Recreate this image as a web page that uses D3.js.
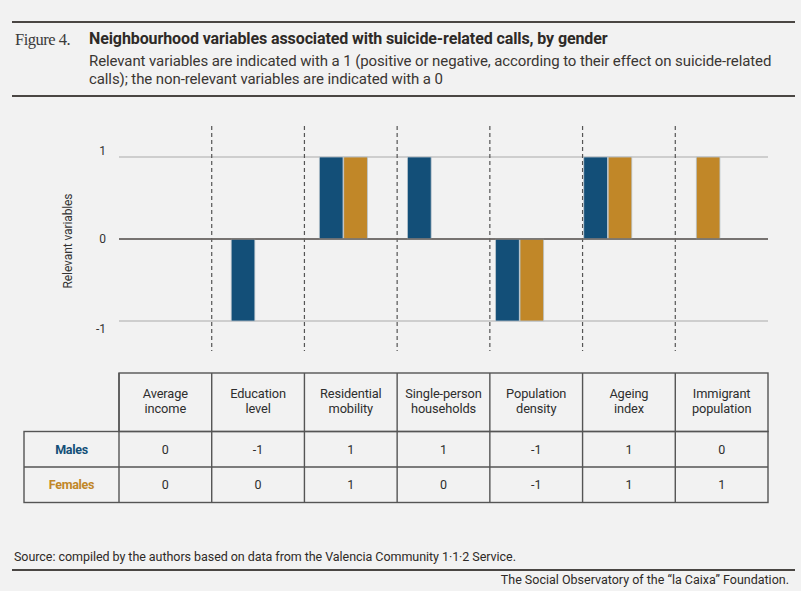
<!DOCTYPE html>
<html>
<head>
<meta charset="utf-8">
<script src="https://cdn.jsdelivr.net/npm/d3@7"></script>
<style>
  html, body { margin: 0; padding: 0; background: #f2f2f2; }
  svg { display: block; font-family: Roboto, "Liberation Sans", sans-serif; }
</style>
</head>
<body>
<div id="chart"></div>
<script>
// data
const categories = [
  ["Average", "income"],
  ["Education", "level"],
  ["Residential", "mobility"],
  ["Single-person", "households"],
  ["Population", "density"],
  ["Ageing", "index"],
  ["Immigrant", "population"]
]
const genders = ["Males", "Females"]
const males = [0, -1, 1, 1, -1, 1, 0]
const females = [0, 0, 1, 0, -1, 1, 1]
const yTicks = [1, 0, -1]

const width = 801
const height = 591
const colors = { Males: "#134f78", Females: "#c18728" }
const lineColor = "#4a4643"

const svg = d3
  .select("#chart")
  .append("svg")
  .attr("width", width)
  .attr("height", height)
  .attr("viewBox", [0, 0, width, height])

svg.append("rect").attr("width", width).attr("height", height).attr("fill", "#f2f2f2")

// header
svg.append("line").attr("x1", 12).attr("x2", 795).attr("y1", 22).attr("y2", 22)
  .attr("stroke", lineColor).attr("stroke-width", 2)
svg.append("line").attr("x1", 12).attr("x2", 795).attr("y1", 96).attr("y2", 96)
  .attr("stroke", lineColor).attr("stroke-width", 2)

svg.append("text")
  .attr("x", 15).attr("y", 45)
  .style("font-family", "'Liberation Serif', 'DejaVu Serif', serif")
  .style("font-size", "16.5px")
  .attr("fill", "#3a3a3a")
  .attr("letter-spacing", -0.5)
  .text("Figure 4.")
svg.append("text")
  .attr("x", 89).attr("y", 44)
  .style("font-size", "16px")
  .style("font-weight", "bold")
  .attr("letter-spacing", -0.1)
  .attr("fill", "#2e2a27")
  .text("Neighbourhood variables associated with suicide-related calls, by gender")
const sub = svg.append("text")
  .style("font-size", "15px")
  .attr("letter-spacing", -0.1)
  .attr("fill", "#3a3633")
sub.append("tspan").attr("x", 89).attr("y", 66)
  .text("Relevant variables are indicated with a 1 (positive or negative, according to their effect on suicide-related")
sub.append("tspan").attr("x", 89).attr("y", 84)
  .text("calls); the non-relevant variables are indicated with a 0")

// chart area
const gridLeft = 119
const gridRight = 768

const y = d3.scaleLinear().domain([-1, 1]).range([321, 157])

// columns of the table / dashed separators
const col = d3.scaleBand().domain(d3.range(categories.length)).range([gridLeft, gridRight])

// bar groups (slightly off the table columns, as in the original)
const x = d3
  .scaleBand()
  .domain(d3.range(categories.length))
  .range([123, 740])
  .paddingInner(0.455)
  .paddingOuter(0.2275)
const xSub = d3.scaleBand().domain(genders).range([0, x.bandwidth()]).paddingInner(0.03)

// gridlines
svg.append("g")
  .selectAll("line")
  .data(yTicks)
  .join("line")
  .attr("x1", gridLeft)
  .attr("x2", gridRight)
  .attr("y1", d => y(d))
  .attr("y2", d => y(d))
  .attr("stroke", d => (d === 0 ? "#6f6b68" : "#c2c2c2"))
  .attr("stroke-width", d => (d === 0 ? 1.6 : 1.4))

// y tick labels
const tickOffset = { "1": -6, "0": 0, "-1": 8 }
svg.append("g")
  .selectAll("text")
  .data(yTicks)
  .join("text")
  .attr("x", 106)
  .attr("y", d => y(d) + tickOffset[d] + 4)
  .attr("text-anchor", "end")
  .style("font-size", "12px")
  .attr("fill", "#333")
  .text(d => d)

svg.append("text")
  .attr("transform", "translate(72,241) rotate(-90)")
  .attr("text-anchor", "middle")
  .style("font-size", "12px")
  .attr("fill", "#333")
  .attr("letter-spacing", -0.1)
  .text("Relevant variables")

// dashed separators
svg.append("g")
  .selectAll("line")
  .data(d3.range(1, categories.length))
  .join("line")
  .attr("x1", i => col(i))
  .attr("x2", i => col(i))
  .attr("y1", 126)
  .attr("y2", 351)
  .attr("stroke", "#555")
  .attr("stroke-width", 1.2)
  .attr("stroke-dasharray", "4,3")

// bars
const barData = []
categories.forEach((c, i) => {
  barData.push({ i, g: "Males", v: males[i] })
  barData.push({ i, g: "Females", v: females[i] })
})
svg.append("g")
  .selectAll("rect")
  .data(barData.filter(d => d.v !== 0))
  .join("rect")
  .attr("x", d => x(d.i) + xSub(d.g))
  .attr("width", xSub.bandwidth())
  .attr("y", d => y(Math.max(0, d.v)))
  .attr("height", d => Math.abs(y(d.v) - y(0)))
  .attr("fill", d => colors[d.g])
  .attr("stroke", "#b9c4cc")
  .attr("stroke-width", 0.8)

// redraw zero line on top
svg.append("line")
  .attr("x1", gridLeft).attr("x2", gridRight)
  .attr("y1", y(0)).attr("y2", y(0))
  .attr("stroke", "#6f6b68").attr("stroke-width", 1.6)

// table
const tableTop = 373
const headerBottom = 431.5
const rowH = 35.5
const tableLeft = 24
const tStroke = "#555"
const table = svg.append("g").attr("stroke", tStroke).attr("stroke-width", 1.4).attr("fill", "none")

table.append("rect")
  .attr("x", gridLeft).attr("y", tableTop)
  .attr("width", gridRight - gridLeft).attr("height", headerBottom - tableTop)
table.append("rect")
  .attr("x", tableLeft).attr("y", headerBottom)
  .attr("width", gridRight - tableLeft).attr("height", rowH * 2)
table.append("line")
  .attr("x1", tableLeft).attr("x2", gridRight)
  .attr("y1", headerBottom + rowH).attr("y2", headerBottom + rowH)
table.selectAll(".vline")
  .data(d3.range(0, categories.length))
  .join("line")
  .attr("x1", i => col(i)).attr("x2", i => col(i))
  .attr("y1", tableTop).attr("y2", headerBottom + rowH * 2)

const header = svg.append("g")
  .selectAll("text")
  .data(categories)
  .join("text")
  .attr("text-anchor", "middle")
  .style("font-size", "12.8px")
  .attr("fill", "#2e2e2e")
  .attr("letter-spacing", -0.1)
header.append("tspan")
  .attr("x", (d, i) => col(i) + col.bandwidth() / 2)
  .attr("y", 398)
  .text(d => d[0])
header.append("tspan")
  .attr("x", (d, i) => col(i) + col.bandwidth() / 2)
  .attr("y", 413)
  .text(d => d[1])

const rows = [males, females]
genders.forEach((g, r) => {
  const cy = headerBottom + rowH * r + rowH / 2 + 4.5
  svg.append("text")
    .attr("x", (tableLeft + gridLeft) / 2)
    .attr("y", cy)
    .attr("text-anchor", "middle")
    .style("font-size", "12.5px")
    .style("font-weight", "bold")
    .attr("letter-spacing", -0.3)
    .attr("fill", colors[g])
    .text(g)
  svg.append("g")
    .selectAll("text")
    .data(rows[r])
    .join("text")
    .attr("x", (d, i) => col(i) + col.bandwidth() / 2)
    .attr("y", cy)
    .attr("text-anchor", "middle")
    .style("font-size", "12.5px")
    .attr("fill", "#2e2e2e")
    .text(d => d)
})

// footer
svg.append("text")
  .attr("x", 14).attr("y", 561)
  .style("font-size", "12.5px")
  .attr("letter-spacing", -0.05)
  .attr("fill", "#2e2a27")
  .text("Source: compiled by the authors based on data from the Valencia Community 1·1·2 Service.")
svg.append("line").attr("x1", 12).attr("x2", 795).attr("y1", 570).attr("y2", 570)
  .attr("stroke", lineColor).attr("stroke-width", 2)
svg.append("text")
  .attr("x", 789).attr("y", 584)
  .attr("text-anchor", "end")
  .style("font-size", "12.5px")
  .attr("letter-spacing", 0)
  .attr("fill", "#2e2a27")
  .text("The Social Observatory of the “la Caixa” Foundation.")
</script>
</body>
</html>
